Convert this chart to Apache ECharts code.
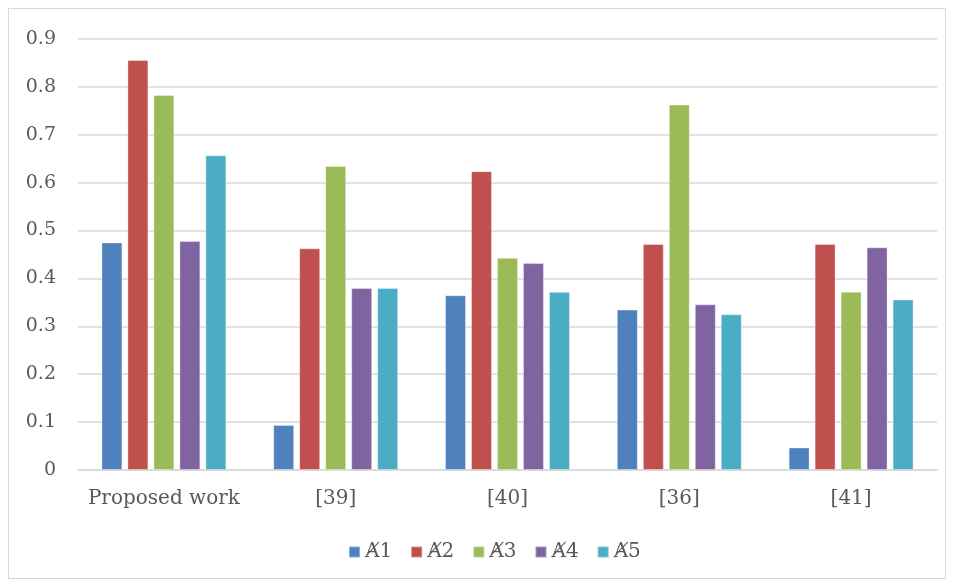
<!DOCTYPE html>
<html><head><meta charset="utf-8">
<script src="https://cdn.jsdelivr.net/npm/echarts@6/dist/echarts.min.js"></script>
<style>
html,body{margin:0;padding:0;background:#fff;}
#frame{position:absolute;left:8px;top:8px;width:938px;height:571px;border:1px solid #d9d9d9;box-sizing:border-box;}
#c{position:absolute;left:0;top:0;width:953px;height:586px;}
</style></head>
<body><div id="frame"></div><div id="c"></div>
<script>
var categories = ['Proposed work', '[39]', '[40]', '[36]', '[41]'];
var seriesNames = ['\u023A1', '\u023A2', '\u023A3', '\u023A4', '\u023A5'];
var A1 = [0.475, 0.094, 0.365, 0.335, 0.047];
var A2 = [0.856, 0.463, 0.624, 0.472, 0.472];
var A3 = [0.783, 0.635, 0.443, 0.763, 0.372];
var A4 = [0.478, 0.380, 0.432, 0.346, 0.465];
var A5 = [0.657, 0.380, 0.372, 0.325, 0.356];
var colors = ['#4f81bd', '#c0504d', '#9bbb59', '#8064a2', '#4bacc6'];
var yTicks = [0, 0.1, 0.2, 0.3, 0.4, 0.5, 0.6, 0.7, 0.8, 0.9];

var font = "'DejaVu Serif', 'Liberation Serif', serif";
var data = [A1, A2, A3, A4, A5];
var chart = echarts.init(document.getElementById('c'));
chart.setOption({
  animation: false,
  color: colors,
  grid: {left: 78, right: 16, top: 39, bottom: 116},
  legend: {
    bottom: 19, left: 343, itemWidth: 11, itemHeight: 11, itemGap: 18,
    icon: 'rect',
    textStyle: {fontFamily: font, fontSize: 20, color: '#595959'},
    data: seriesNames
  },
  xAxis: {
    type: 'category', data: categories,
    axisLine: {lineStyle: {color: '#d9d9d9', width: 1.5}},
    axisTick: {show: false},
    axisLabel: {interval: 0, fontFamily: font, fontSize: 20, color: '#595959', margin: 19}
  },
  yAxis: {
    type: 'value', min: 0, max: 0.9, interval: 0.1,
    axisLine: {show: false}, axisTick: {show: false},
    splitLine: {lineStyle: {color: '#d9d9d9', width: 1.5}},
    axisLabel: {fontFamily: font, fontSize: 19, color: '#595959', margin: 22,
      formatter: function(v){ return yTicks.indexOf(Math.round(v*10)/10) >= 0 ? String(Math.round(v*10)/10) : ''; }}
  },
  series: seriesNames.map(function(n, i){
    return {name: n, type: 'bar', data: data[i], barWidth: '12.2%', barGap: '24%',
      itemStyle: {borderColor: 'rgba(255,255,255,0.35)', borderWidth: 1}};
  })
});
</script></body></html>
